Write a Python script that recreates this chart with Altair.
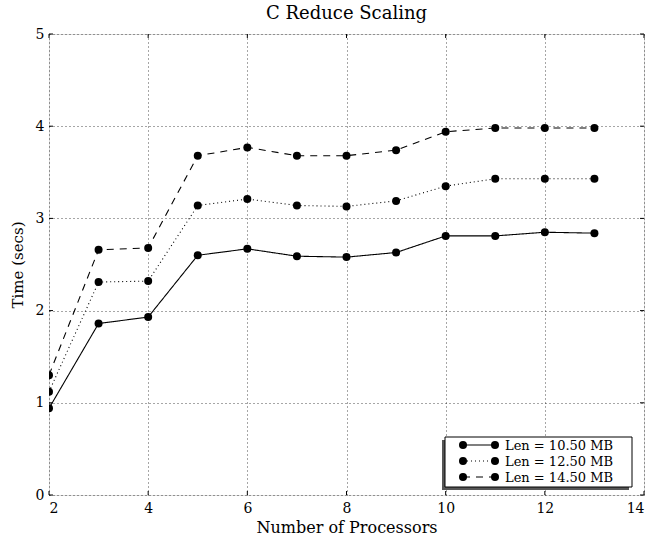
import altair as alt
import pandas as pd

# Measured reduce times (seconds) per processor count, one list per message length
procs = [2, 3, 4, 5, 6, 7, 8, 9, 10, 11, 12, 13]
time_10_50 = [0.94, 1.86, 1.93, 2.60, 2.67, 2.59, 2.58, 2.63, 2.81, 2.81, 2.85, 2.84]
time_12_50 = [1.12, 2.31, 2.32, 3.14, 3.21, 3.14, 3.13, 3.19, 3.35, 3.43, 3.43, 3.43]
time_14_50 = [1.30, 2.66, 2.68, 3.68, 3.77, 3.68, 3.68, 3.74, 3.94, 3.98, 3.98, 3.98]
series_labels = ["Len = 10.50 MB", "Len = 12.50 MB", "Len = 14.50 MB"]

x_ticks = [2, 4, 6, 8, 10, 12, 14]
y_ticks = [0, 1, 2, 3, 4, 5]

FONT = "DejaVu Serif"
W, H = 595, 461
DASHES = [[1, 0], [1, 3], [7, 6]]

rows = []
for label, values in zip(series_labels, [time_10_50, time_12_50, time_14_50]):
    for p, t in zip(procs, values):
        rows.append({"procs": p, "time": t, "series": label})
df = pd.DataFrame(rows)

xscale = alt.Scale(domain=[2, 14], nice=False, zero=False)
yscale = alt.Scale(domain=[0, 5], nice=False, zero=True)

x_enc = alt.X(
    "procs:Q", scale=xscale,
    axis=alt.Axis(values=x_ticks, title="Number of Processors", format="d",
                  grid=True, gridDash=[1, 3], gridColor="#000", gridOpacity=0.7,
                  domain=False, ticks=False, labelPadding=6, titlePadding=4,
                  labelFont=FONT, labelFontSize=14, labelColor="#000",
                  titleFont=FONT, titleFontSize=16, titleFontWeight="normal",
                  titleColor="#000"),
)
y_enc = alt.Y(
    "time:Q", scale=yscale,
    axis=alt.Axis(values=y_ticks, title="Time (secs)", format="d",
                  grid=True, gridDash=[1, 3], gridColor="#000", gridOpacity=0.7,
                  domain=False, ticks=False, labelPadding=5, titlePadding=10,
                  labelFont=FONT, labelFontSize=14, labelColor="#000",
                  titleFont=FONT, titleFontSize=15, titleFontWeight="normal",
                  titleColor="#000"),
)

dash_enc = alt.StrokeDash(
    "series:N",
    scale=alt.Scale(domain=series_labels, range=DASHES),
    legend=None,
)

lines = alt.Chart(df).mark_line(color="#000", strokeWidth=1.1, clip=True).encode(
    x=x_enc, y=y_enc, strokeDash=dash_enc, detail="series:N"
)
points = alt.Chart(df).mark_point(
    filled=True, color="#000", opacity=1, size=64, clip=True
).encode(x="procs:Q", y="time:Q")

# Inward tick marks on all four sides of the frame
xt = pd.DataFrame({"procs": x_ticks})
yt = pd.DataFrame({"time": y_ticks})
ticks = [
    alt.Chart(xt).mark_rule(color="#000").encode(
        x=alt.X("procs:Q", scale=xscale), y=alt.value(H), y2=alt.value(H - 4)),
    alt.Chart(xt).mark_rule(color="#000").encode(
        x=alt.X("procs:Q", scale=xscale), y=alt.value(0), y2=alt.value(4)),
    alt.Chart(yt).mark_rule(color="#000").encode(
        y=alt.Y("time:Q", scale=yscale), x=alt.value(0), x2=alt.value(4)),
    alt.Chart(yt).mark_rule(color="#000").encode(
        y=alt.Y("time:Q", scale=yscale), x=alt.value(W), x2=alt.value(W - 4)),
]

# Legend box with drop shadow, drawn in the lower-right corner
one = pd.DataFrame({"k": [0]})
bx0, bx1, by0, by1 = 396, 583, 403, 453
legend = [
    alt.Chart(one).mark_rect(color="#555").encode(
        x=alt.value(bx0 - 3), x2=alt.value(bx1 - 3),
        y=alt.value(by0 + 3), y2=alt.value(by1 + 3)),
    alt.Chart(one).mark_rect(fill="#fff", stroke="#000", strokeWidth=1).encode(
        x=alt.value(bx0), x2=alt.value(bx1),
        y=alt.value(by0), y2=alt.value(by1)),
]
row_y = [411, 427, 443]
lx0, lx1, tx = 414, 446, 456
for label, dash, ry in zip(series_labels, DASHES, row_y):
    lab = pd.DataFrame({"label": [label]})
    legend.append(alt.Chart(lab).mark_rule(
        color="#000", strokeWidth=1.1, strokeDash=dash).encode(
        x=alt.value(lx0), x2=alt.value(lx1), y=alt.value(ry)))
    legend.append(alt.Chart(lab).mark_point(
        filled=True, color="#000", opacity=1, size=64).encode(
        x=alt.value(lx0), y=alt.value(ry)))
    legend.append(alt.Chart(lab).mark_point(
        filled=True, color="#000", opacity=1, size=64).encode(
        x=alt.value(lx1), y=alt.value(ry)))
    legend.append(alt.Chart(lab).mark_text(
        align="left", baseline="middle", font=FONT, fontSize=13, color="#000").encode(
        x=alt.value(tx), y=alt.value(ry + 1), text="label:N"))

chart = alt.layer(lines, points, *ticks, *legend).properties(
    width=W, height=H,
    title=alt.TitleParams("C Reduce Scaling", font=FONT, fontSize=18,
                          fontWeight="normal", color="#000", offset=4),
    autosize=alt.AutoSizeParams(type="none"),
    padding={"left": 49, "top": 34, "right": 12, "bottom": 47},
).configure_view(
    stroke="#000", strokeWidth=1
).configure(background="#fff")

chart.save("out.html", embed_options={"renderer": "svg", "actions": False})
